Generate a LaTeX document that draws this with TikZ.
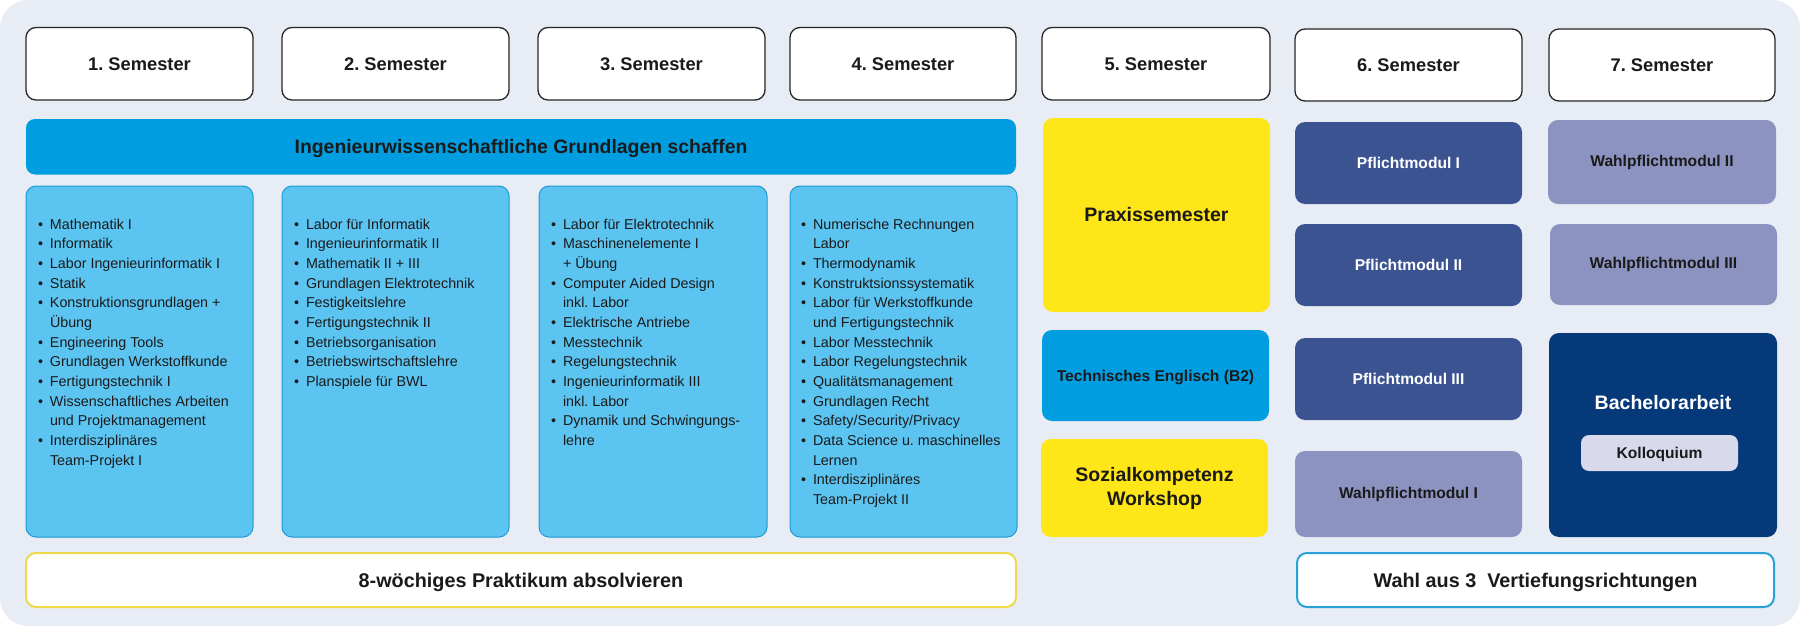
\documentclass[tikz,border=0pt]{standalone}
\usepackage{fontspec}
\setmainfont{Liberation Sans}
\definecolor{cBg}{HTML}{E8ECF4}
\definecolor{cBanner}{HTML}{009EE0}
\definecolor{cLight}{HTML}{5BC4F1}
\definecolor{cLightB}{HTML}{1E9AD6}
\definecolor{cYel}{HTML}{FFE619}
\definecolor{cPfl}{HTML}{3B5491}
\definecolor{cWahl}{HTML}{8C93C0}
\definecolor{cBach}{HTML}{05397A}
\definecolor{cKol}{HTML}{D8D9EA}
\definecolor{cPrakB}{HTML}{F0D84A}
\definecolor{cWahlB}{HTML}{2AA0DA}
\definecolor{cTxt}{HTML}{1A1A1A}
\frenchspacing
\newcommand\bx[6]{\node[#6, minimum width={(#4-#2)*1pt}, minimum height={(#5-#3)*1pt}] (#1) at ({(#2+#4)/2},{(#3+#5)/2})}
\newcommand\li[4]{\node[lst] (#1) at (#2,{229+19.68*(#3-1)}) {\makebox[12pt][l]{\textbullet}#4};}
\newcommand\lc[4]{\node[lst] (#1) at (#2,{229+19.68*(#3-1)}) {\hspace*{12pt}#4};}
\begin{document}
\begin{tikzpicture}[x=1pt,y=-1pt,
  base/.style={inner sep=0pt, outer sep=0pt, align=center, text=cTxt},
  sem/.style={base, draw=black!85, line width=1.3pt, fill=white, rounded corners=10pt, text depth=0pt, font=\bfseries\fontsize{18.3}{21}\selectfont},
  banner/.style={base, fill=cBanner, rounded corners=9pt, text depth=0pt, font=\bfseries\fontsize{19.4}{22}\selectfont},
  col/.style={base, fill=cLight, draw=cLightB, line width=1pt, rounded corners=10pt},
  yel/.style={base, fill=cYel, rounded corners=10pt, font=\bfseries\fontsize{19.5}{24}\selectfont},
  eng/.style={base, fill=cBanner, rounded corners=10pt, text depth=0pt, font=\bfseries\fontsize{15.6}{19}\selectfont},
  pfl/.style={base, fill=cPfl, rounded corners=10pt, text=white, font=\bfseries\fontsize{15.6}{19}\selectfont},
  wahl/.style={base, fill=cWahl, rounded corners=10pt, font=\bfseries\fontsize{15.6}{19}\selectfont},
  bach/.style={base, fill=cBach, rounded corners=10pt},
  kol/.style={base, fill=cKol, rounded corners=8pt, text depth=0pt, font=\bfseries\fontsize{15.6}{19}\selectfont},
  bottom/.style={base, fill=white, line width=2pt, rounded corners=10pt, text depth=0pt, font=\bfseries\fontsize{19.8}{23}\selectfont},
  lst/.style={anchor=base west, inner sep=0pt, outer sep=0pt, text=cTxt, font=\fontsize{14.3}{17}\selectfont}
]
\useasboundingbox (0,0) rectangle (1800,626);
\fill[cBg, rounded corners=28pt] (0,0) rectangle (1800,626);

% semester headers
\bx{s1}{26}{27.5}{253}{100}{sem} {1. Semester};
\bx{s2}{282}{27.5}{509}{100}{sem} {2. Semester};
\bx{s3}{538}{27.5}{765}{100}{sem} {3. Semester};
\bx{s4}{790}{27.5}{1016}{100}{sem} {4. Semester};
\bx{s5}{1042}{27.5}{1270}{100}{sem} {5. Semester};
\bx{s6}{1295}{29}{1522}{101}{sem} {6. Semester};
\bx{s7}{1549}{29}{1775}{101}{sem} {7. Semester};

% banner
\bx{ban}{26}{119}{1016}{174.5}{banner} {Ingenieurwissenschaftliche Grundlagen schaffen};

% columns
\bx{c1}{26}{186}{253}{537}{col} {};
\bx{c2}{282}{186}{509}{537}{col} {};
\bx{c3}{539}{186}{767}{537}{col} {};
\bx{c4}{790}{186}{1017}{537}{col} {};

% list column 1
\li{a1}{38}{1}{Mathematik I}
\li{a2}{38}{2}{Informatik}
\li{a3}{38}{3}{Labor Ingenieurinformatik I}
\li{a4}{38}{4}{Statik}
\li{a5}{38}{5}{Konstruktionsgrundlagen +}
\lc{a6}{38}{6}{Übung}
\li{a7}{38}{7}{Engineering Tools}
\li{a8}{38}{8}{Grundlagen Werkstoffkunde}
\li{a9}{38}{9}{Fertigungstechnik I}
\li{a10}{38}{10}{Wissenschaftliches Arbeiten}
\lc{a11}{38}{11}{und Projektmanagement}
\li{a12}{38}{12}{Interdisziplinäres}
\lc{a13}{38}{13}{Team-Projekt I}

% list column 2
\li{b1}{294}{1}{Labor für Informatik}
\li{b2}{294}{2}{Ingenieurinformatik II}
\li{b3}{294}{3}{Mathematik II + III}
\li{b4}{294}{4}{Grundlagen Elektrotechnik}
\li{b5}{294}{5}{Festigkeitslehre}
\li{b6}{294}{6}{Fertigungstechnik II}
\li{b7}{294}{7}{Betriebsorganisation}
\li{b8}{294}{8}{Betriebswirtschaftslehre}
\li{b9}{294}{9}{Planspiele für BWL}

% list column 3
\li{d1}{551}{1}{Labor für Elektrotechnik}
\li{d2}{551}{2}{Maschinenelemente I}
\lc{d3}{551}{3}{+ Übung}
\li{d4}{551}{4}{Computer Aided Design}
\lc{d5}{551}{5}{inkl. Labor}
\li{d6}{551}{6}{Elektrische Antriebe}
\li{d7}{551}{7}{Messtechnik}
\li{d8}{551}{8}{Regelungstechnik}
\li{d9}{551}{9}{Ingenieurinformatik III}
\lc{d10}{551}{10}{inkl. Labor}
\li{d11}{551}{11}{Dynamik und Schwingungs-}
\lc{d12}{551}{12}{lehre}

% list column 4
\li{e1}{801}{1}{Numerische Rechnungen}
\lc{e2}{801}{2}{Labor}
\li{e3}{801}{3}{Thermodynamik}
\li{e4}{801}{4}{Konstruktsionssystematik}
\li{e5}{801}{5}{Labor für Werkstoffkunde}
\lc{e6}{801}{6}{und Fertigungstechnik}
\li{e7}{801}{7}{Labor Messtechnik}
\li{e8}{801}{8}{Labor Regelungstechnik}
\li{e9}{801}{9}{Qualitätsmanagement}
\li{e10}{801}{10}{Grundlagen Recht}
\li{e11}{801}{11}{Safety/Security/Privacy}
\li{e12}{801}{12}{Data Science u. maschinelles}
\lc{e13}{801}{13}{Lernen}
\li{e14}{801}{14}{Interdisziplinäres}
\lc{e15}{801}{15}{Team-Projekt II}

% semester 5
\bx{praxis}{1043}{118}{1270}{312}{yel} {Praxissemester};
\bx{engl}{1042}{330}{1269}{421}{eng} {Technisches Englisch (B2)};
\bx{sozial}{1041}{439}{1268}{537}{yel} {Sozialkompetenz\\Workshop};

% semester 6
\bx{p1}{1295}{122}{1522}{204}{pfl} {Pflichtmodul I};
\bx{p2}{1295}{224}{1522}{306}{pfl} {Pflichtmodul II};
\bx{p3}{1295}{338}{1522}{420}{pfl} {Pflichtmodul III};
\bx{w1}{1295}{451}{1522}{537}{wahl} {Wahlpflichtmodul I};

% semester 7
\bx{w2}{1548}{120}{1776}{204}{wahl} {Wahlpflichtmodul II};
\bx{w3}{1550}{224}{1777}{305}{wahl} {Wahlpflichtmodul III};
\bx{bach}{1549}{333}{1777}{537}{bach} {};
\node[base, text=white, font=\bfseries\fontsize{19.5}{23}\selectfont] (bachT) at (1663,403) {Bachelorarbeit};
\bx{kol}{1581}{435}{1738}{471}{kol} {Kolloquium};

% bottom
\bx{prak}{26}{553}{1016}{607}{bottom, draw=cPrakB} {8-wöchiges Praktikum absolvieren};
\bx{vert}{1297}{553}{1774}{607}{bottom, draw=cWahlB} {Wahl aus 3\ \ Vertiefungsrichtungen};
\end{tikzpicture}
\end{document}
